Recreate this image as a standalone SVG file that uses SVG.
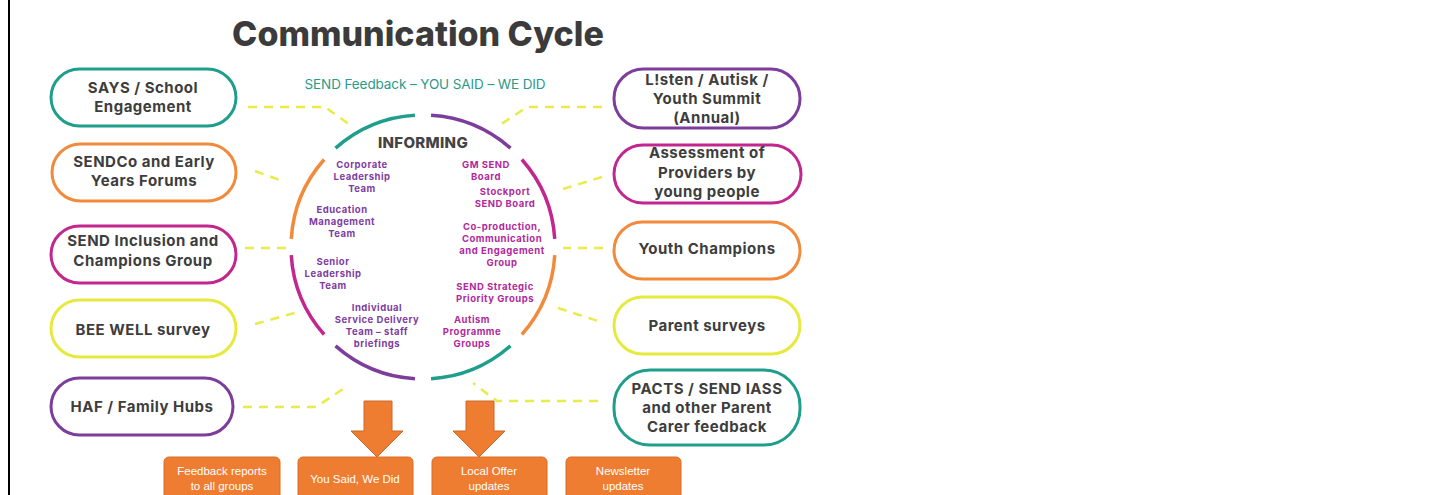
<svg xmlns="http://www.w3.org/2000/svg" width="1435" height="495" viewBox="0 0 1435 495">
  <style>
    .bg { fill: #ffffff; }
    .title { font-family: Inter, "Open Sans", "Liberation Sans", sans-serif; font-weight: 800; font-size: 34px; fill: #3b3b3b; text-anchor: middle; letter-spacing: 0px; }
    .subtitle { font-family: Inter, "Open Sans", "Liberation Sans", sans-serif; font-size: 13.5px; fill: #2a9a8b; text-anchor: middle; letter-spacing: -0.1px; }
    .pill { fill: #ffffff; stroke-width: 3; }
    .label { font-family: Inter, "Open Sans", "Liberation Sans", sans-serif; font-weight: 700; font-size: 15px; fill: #3d3d3d; text-anchor: middle; letter-spacing: 0.5px; }
    .teal { stroke: #1f9e8c; }
    .orange { stroke: #f28a3c; }
    .magenta { stroke: #c2268f; }
    .purple { stroke: #7c3d9b; }
    .yellow { stroke: #e6e93e; }
    .arc { fill: none; stroke-width: 3.5; }
    .heading { font-family: Inter, "Open Sans", "Liberation Sans", sans-serif; font-weight: 800; font-size: 15px; fill: #444444; text-anchor: middle; letter-spacing: 0.3px; }
    .inner { font-family: Inter, "Open Sans", "Liberation Sans", sans-serif; font-weight: 700; font-size: 9.5px; text-anchor: middle; letter-spacing: 0.5px; }
    .inner-l { fill: #7e3ca2; }
    .inner-r { fill: #b02a9c; }
    .link { fill: none; stroke: #e8eb4a; stroke-width: 2.5; stroke-dasharray: 9 7; }
    .arrow { fill: #ee7d31; stroke: #c9682a; stroke-width: 1; }
    .box { fill: #ee7d31; stroke: #d86e27; stroke-width: 1; }
    .boxtext { font-family: "Liberation Sans", Arial, sans-serif; font-size: 11.5px; fill: #ffffff; text-anchor: middle; }
  </style>

  <rect class="bg" x="0" y="0" width="1435" height="495"/>
  <!-- left frame edge -->
  <line x1="9" y1="0" x2="9" y2="495" stroke="#000000" stroke-width="2"/>

  <text class="title" x="418" y="46">Communication Cycle</text>
  <text class="subtitle" x="425" y="89">SEND Feedback – YOU SAID – WE DID</text>

  <!-- dashed links between the feedback sources and the central cycle -->
  <g id="connectors">
    <path class="link" d="M248,107 L325,107 L350,125"/>
    <path class="link" d="M255,171 L285,182"/>
    <path class="link" d="M245,248 L287,248"/>
    <path class="link" d="M255,324 L298,312"/>
    <path class="link" d="M243,407 L316,407 L343,389"/>
    <path class="link" d="M602,107 L527,107 L500,125"/>
    <path class="link" d="M602,177 L563,189"/>
    <path class="link" d="M603,248 L563,248"/>
    <path class="link" d="M558,308 L598,321"/>
    <path class="link" d="M598,401 L497,401 L473,383"/>
  </g>

  <!-- central cycle: eight coloured arcs -->
  <g id="cycle">
    <path class="arc teal" d="M335.53,148.14 A132,132 0 0 1 414.94,115.25"/>
    <path class="arc purple" d="M431.06,115.25 A132,132 0 0 1 510.47,148.14"/>
    <path class="arc magenta" d="M521.86,159.53 A132,132 0 0 1 554.75,238.94"/>
    <path class="arc orange" d="M554.75,255.06 A132,132 0 0 1 521.86,334.47"/>
    <path class="arc teal" d="M510.47,345.86 A132,132 0 0 1 431.06,378.75"/>
    <path class="arc purple" d="M414.94,378.75 A132,132 0 0 1 335.53,345.86"/>
    <path class="arc magenta" d="M324.14,334.47 A132,132 0 0 1 291.25,255.06"/>
    <path class="arc orange" d="M291.25,238.94 A132,132 0 0 1 324.14,159.53"/>

    <text class="heading" x="423" y="148">INFORMING</text>

    <text class="inner inner-l" x="362" y="168">Corporate<tspan x="362" dy="12">Leadership</tspan><tspan x="362" dy="12">Team</tspan></text>
    <text class="inner inner-l" x="342" y="213">Education<tspan x="342" dy="12">Management</tspan><tspan x="342" dy="12">Team</tspan></text>
    <text class="inner inner-l" x="333" y="265">Senior<tspan x="333" dy="12">Leadership</tspan><tspan x="333" dy="12">Team</tspan></text>
    <text class="inner inner-l" x="377" y="311">Individual<tspan x="377" dy="12">Service Delivery</tspan><tspan x="377" dy="12">Team – staff</tspan><tspan x="377" dy="12">briefings</tspan></text>

    <text class="inner inner-r" x="486" y="168">GM SEND<tspan x="486" dy="12">Board</tspan></text>
    <text class="inner inner-r" x="505" y="195">Stockport<tspan x="505" dy="12">SEND Board</tspan></text>
    <text class="inner inner-r" x="502" y="230">Co-production,<tspan x="502" dy="12">Communication</tspan><tspan x="502" dy="12">and Engagement</tspan><tspan x="502" dy="12">Group</tspan></text>
    <text class="inner inner-r" x="495" y="290">SEND Strategic<tspan x="495" dy="12">Priority Groups</tspan></text>
    <text class="inner inner-r" x="472" y="323">Autism<tspan x="472" dy="12">Programme</tspan><tspan x="472" dy="12">Groups</tspan></text>
  </g>

  <!-- feedback sources, left -->
  <g id="node-says">
    <rect class="pill teal" x="51" y="69" width="185" height="57" rx="28.5"/>
    <text class="label" x="143" y="93">SAYS / School<tspan x="143" dy="19">Engagement</tspan></text>
  </g>
  <g id="node-sendco">
    <rect class="pill orange" x="52" y="144" width="184" height="57" rx="28.5"/>
    <text class="label" x="144" y="167">SENDCo and Early<tspan x="144" dy="19">Years Forums</tspan></text>
  </g>
  <g id="node-inclusion">
    <rect class="pill magenta" x="51" y="226" width="185" height="57" rx="28.5"/>
    <text class="label" x="143" y="246">SEND Inclusion and<tspan x="143" dy="20">Champions Group</tspan></text>
  </g>
  <g id="node-beewell">
    <rect class="pill yellow" x="51" y="300" width="185" height="57" rx="28.5"/>
    <text class="label" x="143" y="335">BEE WELL survey</text>
  </g>
  <g id="node-haf">
    <rect class="pill purple" x="51" y="378" width="182" height="57" rx="28.5"/>
    <text class="label" x="142" y="412">HAF / Family Hubs</text>
  </g>

  <!-- feedback sources, right -->
  <g id="node-listen">
    <rect class="pill purple" x="614" y="69" width="186" height="59" rx="29.5"/>
    <text class="label" x="707" y="85">L!sten / Autisk /<tspan x="707" dy="19">Youth Summit</tspan><tspan x="707" dy="19">(Annual)</tspan></text>
  </g>
  <g id="node-assessment">
    <rect class="pill magenta" x="614" y="145" width="187" height="58" rx="29"/>
    <text class="label" x="707" y="158">Assessment of<tspan x="707" dy="19.5">Providers by</tspan><tspan x="707" dy="19.5">young people</tspan></text>
  </g>
  <g id="node-youth">
    <rect class="pill orange" x="614" y="222" width="186" height="57" rx="28.5"/>
    <text class="label" x="707" y="254">Youth Champions</text>
  </g>
  <g id="node-parent">
    <rect class="pill yellow" x="614" y="297" width="186" height="57" rx="28.5"/>
    <text class="label" x="707" y="331">Parent surveys</text>
  </g>
  <g id="node-pacts">
    <rect class="pill teal" x="614" y="370" width="186" height="75" rx="36"/>
    <text class="label" x="707" y="394">PACTS / SEND IASS<tspan x="707" dy="19">and other Parent</tspan><tspan x="707" dy="19">Carer feedback</tspan></text>
  </g>

  <!-- outputs -->
  <g id="arrow-1">
    <polygon class="arrow" points="364,401 392,401 392,431 403,431 377,457 351,431 364,431"/>
  </g>
  <g id="arrow-2">
    <polygon class="arrow" points="466,401 494,401 494,431 505,431 479,457 453,431 466,431"/>
  </g>
  <g id="out-feedback">
    <rect class="box" x="164" y="457" width="116" height="50" rx="5"/>
    <text class="boxtext" x="222" y="475">Feedback reports<tspan x="222" dy="15">to all groups</tspan></text>
  </g>
  <g id="out-yousaid">
    <rect class="box" x="298" y="457" width="115" height="50" rx="5"/>
    <text class="boxtext" x="355" y="483">You Said, We Did</text>
  </g>
  <g id="out-localoffer">
    <rect class="box" x="432" y="457" width="115" height="50" rx="5"/>
    <text class="boxtext" x="489" y="475">Local Offer<tspan x="489" dy="15">updates</tspan></text>
  </g>
  <g id="out-newsletter">
    <rect class="box" x="566" y="457" width="115" height="50" rx="5"/>
    <text class="boxtext" x="623" y="475">Newsletter<tspan x="623" dy="15">updates</tspan></text>
  </g>
</svg>
